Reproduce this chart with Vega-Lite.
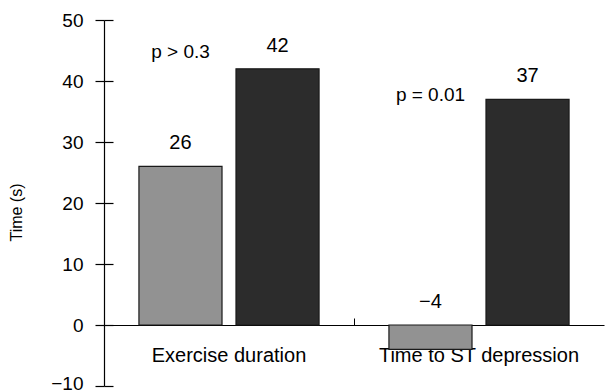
{
  "$schema": "https://vega.github.io/schema/vega-lite/v6.json",
  "width": 500,
  "height": 366,
  "autosize": {"type": "none"},
  "padding": {"left": 104, "top": 20, "right": 1, "bottom": 6},
  "background": "white",
  "config": {
    "view": {"stroke": null},
    "font": "Liberation Sans",
    "axis": {"labelFont": "Liberation Sans", "titleFont": "Liberation Sans", "grid": false}
  },
  "datasets": {
    "bars": [
      {"measure": "Exercise duration", "series": "A", "value": 26},
      {"measure": "Exercise duration", "series": "B", "value": 42},
      {"measure": "Time to ST depression", "series": "A", "value": -4},
      {"measure": "Time to ST depression", "series": "B", "value": 37}
    ],
    "notes": [
      {"measure": "Exercise duration", "series": "A", "text": "p > 0.3", "at": 44.8},
      {"measure": "Time to ST depression", "series": "A", "text": "p = 0.01", "at": 37.7}
    ]
  },
  "resolve": {"scale": {"y": "independent"}, "axis": {"y": "independent"}},
  "layer": [
    {
      "data": {"name": "bars"},
      "mark": {"type": "bar", "stroke": "#1a1a1a", "strokeWidth": 1.2},
      "encoding": {
        "x": {
          "field": "measure", "type": "nominal", "sort": null,
          "scale": {"paddingInner": 0, "paddingOuter": 0},
          "axis": {
            "orient": "bottom", "offset": -61, "title": null, "labelAngle": 0,
            "labelFontSize": 20, "labelColor": "black", "domainColor": "black",
            "domainWidth": 1.2, "bandPosition": 0, "labelLimit": 0,
            "tickSize": -7, "tickColor": "black", "labelPadding": 27
          }
        },
        "xOffset": {"field": "series", "type": "nominal", "scale": {"paddingInner": 0.144, "paddingOuter": 0.36}},
        "y": {
          "field": "value", "type": "quantitative",
          "scale": {"domain": [-10, 50], "nice": false, "zero": false},
          "axis": {
            "values": [-10, 0, 10, 20, 30, 40, 50], "tickSize": 9, "labelPadding": 12,
            "labelFontSize": 19, "labelColor": "black", "domainColor": "black", "tickColor": "black",
            "domainWidth": 1.2, "tickWidth": 1.2,
            "labelOffset": {"condition": {"test": "datum.value === -10", "value": -3}, "value": 0},
            "title": "Time (s)", "titleFontSize": 16, "titleFontWeight": "normal", "titleColor": "black",
            "titlePadding": 26, "titleY": 192, "titleAlign": "center", "titleAngle": -90
          }
        },
        "color": {"field": "series", "type": "nominal", "scale": {"domain": ["A", "B"], "range": ["#929292", "#2c2c2c"]}, "legend": null}
      }
    },
    {
      "data": {"name": "bars"},
      "transform": [{"calculate": "max(datum.value, 0)", "as": "pos"}],
      "mark": {"type": "text", "dy": -23, "baseline": "middle", "align": "center", "fontSize": 20, "color": "black"},
      "encoding": {
        "x": {"field": "measure", "type": "nominal", "sort": null},
        "xOffset": {"field": "series", "type": "nominal"},
        "y": {
          "field": "pos", "type": "quantitative",
          "scale": {"domain": [-10, 50], "nice": false, "zero": false},
          "axis": {
            "orient": "left", "offset": -9, "domain": false, "labels": false, "title": null,
            "values": [-10, 0, 10, 20, 30, 40, 50], "tickSize": 9, "tickColor": "black", "tickWidth": 1.2
          }
        },
        "text": {"field": "value", "type": "quantitative"}
      }
    },
    {
      "data": {"name": "notes"},
      "mark": {"type": "text", "baseline": "middle", "align": "center", "fontSize": 19, "color": "black"},
      "encoding": {
        "x": {"field": "measure", "type": "nominal", "sort": null},
        "xOffset": {"field": "series", "type": "nominal"},
        "y": {
          "field": "at", "type": "quantitative",
          "scale": {"domain": [-10, 50], "nice": false, "zero": false},
          "axis": null
        },
        "text": {"field": "text"}
      }
    }
  ]
}
